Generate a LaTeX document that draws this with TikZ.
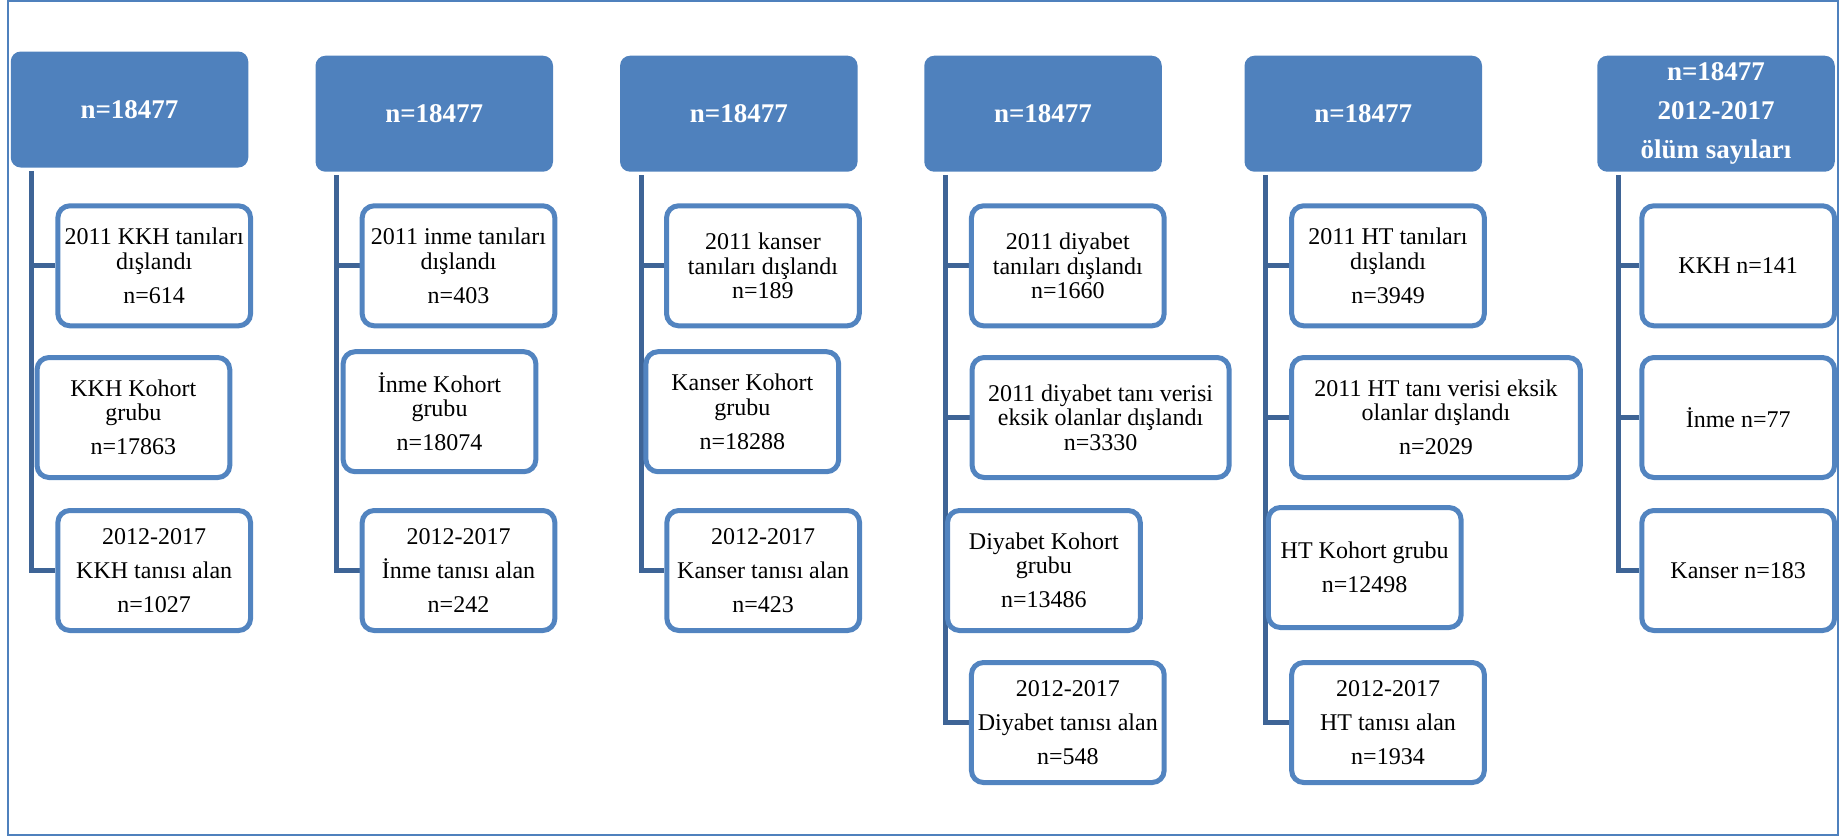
\documentclass[tikz,border=0pt]{standalone}
\usepackage{fontspec}
\setmainfont{Liberation Serif}
\usetikzlibrary{backgrounds}
\definecolor{HeadBlue}{RGB}{79,129,189}
\definecolor{BoxBlue}{RGB}{82,132,192}
\definecolor{LineBlue}{RGB}{62,100,150}

\begin{document}
\begin{tikzpicture}[
    x=0.5pt, y=-0.5pt,
    head/.style={fill=HeadBlue, draw=none, rounded corners=5pt,
        text=white, align=center, inner sep=0pt,
        font=\fontsize{13.5}{16}\selectfont\bfseries,
        minimum width=118.75pt, minimum height=58pt},
    item/.style={draw=BoxBlue, line width=2.5pt, fill=white,
        rounded corners=6pt, align=center, inner sep=0pt,
        font=\fontsize{12}{12.2}\selectfont,
        minimum width=96.35pt, minimum height=60pt},
    link/.style={draw=LineBlue, line width=2.5pt},
    frame/.style={draw=HeadBlue, line width=0.75pt},
]
\useasboundingbox (0,0) rectangle (1841,837);
\draw[frame] (8,1) rectangle (1838,835);

% kkh
\node[head] (h1) at (129.5,109.5) {n=18477};
\node[item] (kkhx) at (154.2,265.8) {2011 KKH tanıları\\dışlandı\\[4.8pt]n=614};
\node[item] (kkhk) at (133.4,417.5) {KKH Kohort\\grubu\\[4.8pt]n=17863};
\node[item] (kkhd) at (154.2,570.5) {2012-2017\\[4.8pt]KKH tanısı alan\\[4.8pt]n=1027};

% inme
\node[head] (h2) at (434.25,113.7) {n=18477};
\node[item] (inmx) at (458.5,265.8) {2011 inme tanıları\\dışlandı\\[4.8pt]n=403};
\node[item] (inmk) at (439.5,411.7) {İnme Kohort\\grubu\\[4.8pt]n=18074};
\node[item] (inmd) at (458.5,570.5) {2012-2017\\[4.8pt]İnme tanısı alan\\[4.8pt]n=242};

% kanser
\node[head] (h3) at (738.8,113.7) {n=18477};
\node[item] (kanx) at (762.9,265.8) {2011 kanser\\tanıları dışlandı\\n=189};
\node[item] (kank) at (742.3,411.7) {Kanser Kohort\\grubu\\[4.8pt]n=18288};
\node[item] (kand) at (763.2,570.5) {2012-2017\\[4.8pt]Kanser tanısı alan\\[4.8pt]n=423};

% diyabet
\node[head] (h4) at (1043,113.7) {n=18477};
\node[item] (diyx) at (1067.8,265.8) {2011 diyabet\\tanıları dışlandı\\n=1660};
\node[item, minimum width=128.5pt] (diye) at (1100.6,417.5)
    {2011 diyabet tanı verisi\\eksik olanlar dışlandı\\n=3330};
\node[item] (diyk) at (1043.9,570.5) {Diyabet Kohort\\grubu\\[4.8pt]n=13486};
\node[item] (diyd) at (1067.8,722.5) {2012-2017\\[5pt]Diyabet tanısı alan\\[4.8pt]n=548};

% ht
\node[head] (h5) at (1363.25,113.7) {n=18477};
\node[item] (htx) at (1388,265.8) {2011 HT tanıları\\dışlandı\\[4.8pt]n=3949};
\node[item, minimum width=144.3pt] (hte) at (1436,417.5)
    {2011 HT tanı verisi eksik\\olanlar dışlandı\\[4.8pt]n=2029};
\node[item] (htk) at (1364.7,567.5) {HT Kohort grubu\\[4.8pt]n=12498};
\node[item] (htd) at (1388,722.5) {2012-2017\\[5pt]HT tanısı alan\\[4.8pt]n=1934};

% olum sayilari
\node[head] (h6) at (1716,113.7) {n=18477\\[3.5pt]2012-2017\\[3.5pt]ölüm sayıları};
\node[item] (okkh) at (1738.2,265.8) {KKH n=141};
\node[item] (oinm) at (1738.2,417.5) {İnme n=77};
\node[item] (okan) at (1738.2,570.5) {Kanser n=183};

% hiyerarsi cizgileri
\begin{scope}[on background layer]
    \foreach \h in {1,...,6}
        \coordinate (t\h) at ([xshift=10.7pt,yshift=-1.5pt]h\h.south west);
    \foreach \t/\last in {t1/kkhd, t2/inmd, t3/kand, t4/diyd, t5/htd, t6/okan}
        \draw[link] (\t) |- (\last.west);
    \foreach \t/\b in {t1/kkhx, t2/inmx, t3/kanx, t4/diyx, t4/diye,
                       t5/htx, t5/hte, t6/okkh, t6/oinm}
        \draw[link] (\b.west) -- (\b.west -| \t);
\end{scope}

\end{tikzpicture}
\end{document}
